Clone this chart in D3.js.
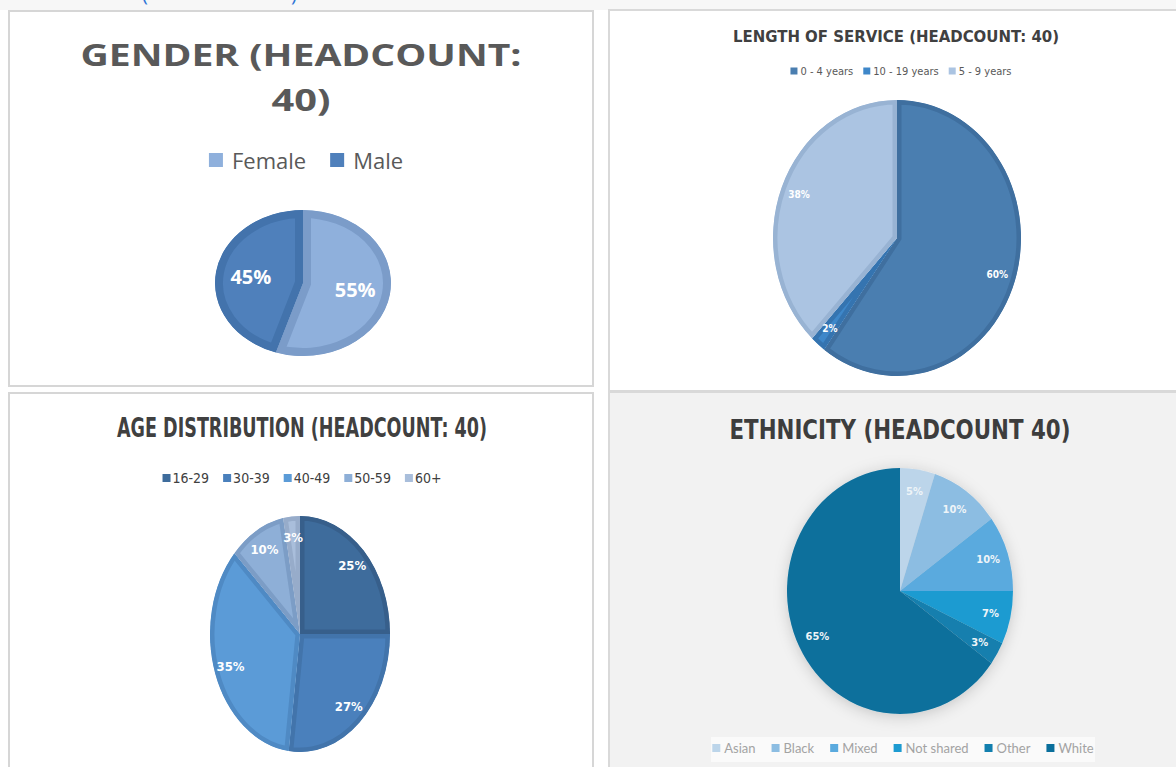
<!DOCTYPE html>
<html>
<head>
<meta charset="utf-8">
<script src="https://cdn.jsdelivr.net/npm/d3@7"></script>
<style>
  body { margin: 0; background: #fff; }
  svg { display: block; }
</style>
</head>
<body>
<svg id="chart" width="1176" height="767"></svg>
<script>
// ---- data ----
const genderCats = ['Female', 'Male'];
const genderVals = [55, 45];
const genderFill = ['#8fb0dc', '#4f80bb'];
const genderEdge = ['#7b9cc9', '#4373ac'];

const serviceCats = ['0 - 4 years', '10 - 19 years', '5 - 9 years'];
const serviceVals = [60, 2, 38];
const serviceFill = ['#4a7eb0', '#3e87c9', '#abc4e2'];
const serviceEdge = ['#3f6f9f', '#3574b0', '#98b3d3'];

const ageCats = ['16-29', '30-39', '40-49', '50-59', '60+'];
const ageVals = [25, 27, 35, 10, 3];
const ageFill = ['#3e6c9c', '#4a80bc', '#5b9bd7', '#8eafd7', '#a9bedb'];
const ageEdge = ['#375f8b', '#4274ab', '#4f8ac4', '#7c9dc6', '#97acca'];

const ethCats = ['Asian', 'Black', 'Mixed', 'Not shared', 'Other', 'White'];
const ethVals = [5, 10, 10, 7, 3, 65];
const ethFill = ['#bcd5ea', '#8cbde2', '#5aaade', '#1d9bd1', '#127fae', '#0a6f9c'];

const svg = d3.select('#chart');
const condensed = "'DejaVu Sans Condensed', 'DejaVu Sans', sans-serif";

// ---- panels ----
const defs = svg.append('defs');
defs.append('filter').attr('id', 'shadow')
    .attr('x', '-20%').attr('y', '-20%').attr('width', '140%').attr('height', '140%')
    .append('feDropShadow')
    .attr('dx', 0).attr('dy', 2).attr('stdDeviation', 6)
    .attr('flood-color', '#000').attr('flood-opacity', 0.18);

svg.append('rect').attr('x', 0).attr('y', 0).attr('width', 1176).attr('height', 10).attr('fill', '#f7f7f7');
svg.append('rect').attr('x', 609).attr('y', 392).attr('width', 580).attr('height', 390)
    .attr('fill', '#f2f2f2').attr('stroke', '#d9d9d9').attr('stroke-width', 2);
svg.append('rect').attr('x', 9).attr('y', 11).attr('width', 584).attr('height', 375)
    .attr('fill', '#fff').attr('stroke', '#d6d6d6').attr('stroke-width', 2);
svg.append('rect').attr('x', 609).attr('y', 10).attr('width', 580).attr('height', 381)
    .attr('fill', '#fff').attr('stroke', '#d9d9d9').attr('stroke-width', 2);
svg.append('rect').attr('x', 9).attr('y', 393).attr('width', 584).attr('height', 400)
    .attr('fill', '#fff').attr('stroke', '#d6d6d6').attr('stroke-width', 2);

// blue heading above the charts, mostly scrolled out of view in the original
svg.append('text').attr('x', 142).attr('y', 1).attr('fill', '#2e75d6')
    .style('font-family', "'Open Sans', sans-serif").style('font-size', '20px').text('(');
svg.append('text').attr('x', 291).attr('y', 1).attr('fill', '#2e75d6')
    .style('font-family', "'Open Sans', sans-serif").style('font-size', '20px').text(')');

// ---- pie helper ----
let clipId = 0;
function drawPie(o) {
    const R = 100;
    const data = o.values.map((v, i) => ({ cat: o.cats[i], value: v, i }));
    const pie = d3.pie().sort(null).value(d => d.value)(data);
    const arc = d3.arc().innerRadius(0).outerRadius(R);
    const labelArc = d3.arc().innerRadius(R * o.labelR).outerRadius(R * o.labelR);

    const g = svg.append('g')
        .attr('transform', `translate(${o.cx},${o.cy}) scale(${o.rx / R},${o.ry / R})`);
    if (o.shadow) g.attr('filter', 'url(#shadow)');

    pie.forEach(p => {
        const d = arc(p);
        if (o.edge) {
            // clip each slice to itself so the stroke only shows on the inside
            const id = 'clip' + (clipId++);
            defs.append('clipPath').attr('id', id).append('path').attr('d', d);
            g.append('path').attr('d', d)
                .attr('fill', o.fill[p.data.i])
                .attr('stroke', o.edge[p.data.i])
                .attr('stroke-width', o.edgeW)
                .attr('vector-effect', 'non-scaling-stroke')
                .attr('clip-path', `url(#${id})`);
        } else {
            g.append('path').attr('d', d).attr('fill', o.fill[p.data.i]);
        }
    });

    // labels placed in page space
    pie.forEach(p => {
        const [lx, ly] = labelArc.centroid(p);
        svg.append('text')
            .attr('x', o.cx + lx * o.rx / R)
            .attr('y', o.cy + ly * o.ry / R)
            .attr('text-anchor', 'middle')
            .attr('dominant-baseline', 'central')
            .attr('fill', o.labelColor || '#fff')
            .style('font-family', o.labelFont)
            .style('font-size', o.labelSize + 'px')
            .style('font-weight', 'bold')
            .text(p.data.value + '%');
    });
}

function drawLegend(o) {
    const g = svg.append('g');
    let x = 0;
    o.cats.forEach((c, i) => {
        g.append('rect').attr('x', x).attr('y', -o.box / 2)
            .attr('width', o.box).attr('height', o.box).attr('fill', o.fill[i]);
        const t = g.append('text').attr('x', x + o.box + o.pad).attr('y', 0)
            .attr('dominant-baseline', 'central')
            .attr('fill', o.color)
            .style('font-family', o.font)
            .style('font-size', o.size + 'px')
            .text(c);
        x += o.box + o.pad + t.node().getComputedTextLength() + o.gap;
    });
    const total = x - o.gap;
    g.attr('transform', `translate(${o.cx - total / 2},${o.y})`);
}

function title(txt, x, y, size, len, font, color) {
    svg.append('text')
        .attr('x', x).attr('y', y)
        .attr('text-anchor', 'middle')
        .attr('fill', color)
        .attr('textLength', len)
        .attr('lengthAdjust', 'spacingAndGlyphs')
        .style('font-family', font)
        .style('font-size', size + 'px')
        .style('font-weight', 'bold')
        .text(txt);
}

// ---- Gender ----
title('GENDER (HEADCOUNT:', 301, 66, 30, 441, "'Open Sans', sans-serif", '#595959');
title('40)', 301, 111, 30, 59, "'Open Sans', sans-serif", '#595959');
drawLegend({ cats: genderCats, fill: genderFill, cx: 306, y: 160, box: 14, pad: 9, gap: 24,
    size: 22, font: "'Open Sans', sans-serif", color: '#595959' });
drawPie({ values: genderVals, cats: genderCats, fill: genderFill, edge: genderEdge, edgeW: 16,
    cx: 303, cy: 283, rx: 88, ry: 73, labelR: 0.6, labelSize: 20,
    labelFont: "'Open Sans', sans-serif" });

// ---- Length of service ----
title('LENGTH OF SERVICE (HEADCOUNT: 40)', 896, 42, 16, 326, condensed, '#404040');
drawLegend({ cats: serviceCats, fill: serviceFill, cx: 901, y: 71, box: 7, pad: 3, gap: 10,
    size: 11, font: condensed, color: '#595959' });
drawPie({ values: serviceVals, cats: serviceCats, fill: serviceFill, edge: serviceEdge, edgeW: 9,
    cx: 897, cy: 238, rx: 124, ry: 138, labelR: 0.85, labelSize: 10, labelFont: condensed });

// ---- Age distribution ----
title('AGE DISTRIBUTION (HEADCOUNT: 40)', 302, 437, 27, 370, condensed, '#404040');
drawLegend({ cats: ageCats, fill: ageFill, cx: 302, y: 478, box: 8, pad: 2, gap: 14,
    size: 14, font: condensed, color: '#404040' });
drawPie({ values: ageVals, cats: ageCats, fill: ageFill, edge: ageEdge, edgeW: 9,
    cx: 300, cy: 634, rx: 90, ry: 118, labelR: 0.82, labelSize: 13, labelFont: condensed });

// ---- Ethnicity ----
svg.append('rect').attr('x', 711).attr('y', 737).attr('width', 384).attr('height', 25).attr('fill', '#fafafa');
title('ETHNICITY (HEADCOUNT 40)', 900, 439, 27, 341, condensed, '#3d3d3d');
drawPie({ values: ethVals, cats: ethCats, fill: ethFill, cx: 900, cy: 591, rx: 113, ry: 123,
    labelR: 0.82, labelSize: 11, labelFont: condensed, labelColor: '#eef4f8', shadow: true });
drawLegend({ cats: ethCats, fill: ethFill, cx: 903, y: 748, box: 8, pad: 4, gap: 16,
    size: 13, font: "'Lato', sans-serif", color: '#a3a3a3' });
</script>
</body>
</html>
